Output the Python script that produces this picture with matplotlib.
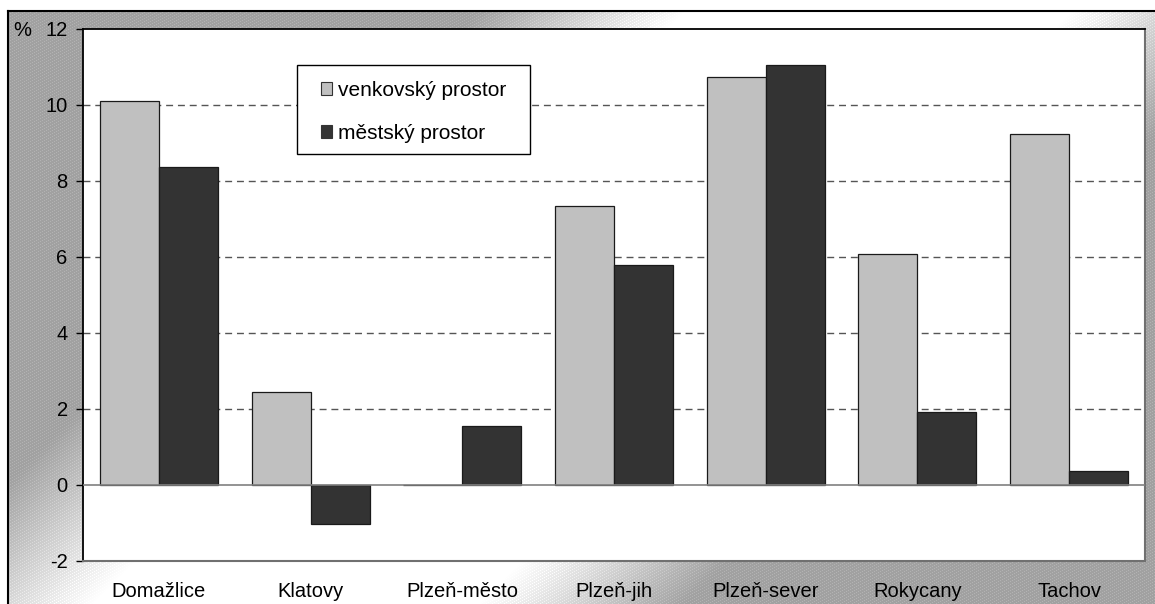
import numpy as np
import matplotlib
matplotlib.use("Agg")
import matplotlib.pyplot as plt
from matplotlib.patches import Patch, Rectangle

plt.rcParams['font.family'] = ['Liberation Sans', 'DejaVu Sans']
plt.rcParams['axes.unicode_minus'] = False

# data (% change)
districts = ["Domažlice", "Klatovy", "Plzeň-město", "Plzeň-jih",
             "Plzeň-sever", "Rokycany", "Tachov"]
rural = [10.1, 2.45, 0.0, 7.33, 10.73, 6.08, 9.24]
urban = [8.36, -1.03, 1.55, 5.8, 11.04, 1.92, 0.37]
series_names = ["venkovský prostor", "městský prostor"]
yticks = [-2, 0, 2, 4, 6, 8, 10, 12]

W, H = 1155, 604
fig = plt.figure(figsize=(W / 100, H / 100), dpi=100)

# gray diagonal gradient with faint white hatching behind the plot area
bx0, by0 = 8, 11
bw, bh = W - bx0, H - by0
yy, xx = np.mgrid[0:bh, 0:bw]
t = (xx + yy) / (bw + bh)
ramp = np.clip((np.abs(t - 0.5) - 0.11) / 0.12, 0, 1)
shade = 1.0 - 0.37 * ramp
hatch = ((xx + 2 * yy) % 6) < 1
img = np.where(hatch, np.minimum(shade + 0.07, 1.0), shade)
bg = fig.add_axes([bx0 / W, 0, bw / W, bh / H], zorder=0)
bg.imshow(img, cmap='gray', vmin=0, vmax=1, aspect='auto', interpolation='nearest')
bg.set_axis_off()
fig.add_artist(plt.Line2D([bx0 / W, bx0 / W], [0, 1 - by0 / H], color='black', lw=1.5))
fig.add_artist(plt.Line2D([bx0 / W, 1], [1 - by0 / H, 1 - by0 / H], color='black', lw=1.5))

# plot area
left, right, top, bottom = 83, 1145, 29, 561
ax = fig.add_axes([left / W, 1 - bottom / H, (right - left) / W, (bottom - top) / H], zorder=2)
ax.set_facecolor('white')

x = np.arange(len(districts))
bw_ = 0.389
ax.bar(x - bw_ / 2, rural, width=bw_, color='#c0c0c0', edgecolor='#1a1a1a', lw=0.9, zorder=3)
ax.bar(x + bw_ / 2, urban, width=bw_, color='#333333', edgecolor='#1a1a1a', lw=0.9, zorder=3)

for v in yticks[2:-1]:
    ax.axhline(v, color='#555555', lw=1, ls=(0, (5, 3.5)), zorder=1)
ax.axhline(0, color='#808080', lw=1.2, zorder=4)

ax.set_xlim(-0.5, len(districts) - 0.5)
ax.set_ylim(-2, 12)
ax.set_yticks(yticks)
ax.set_xticks(x)
ax.set_xticklabels(districts)
ax.tick_params(axis='y', direction='out', length=5, width=1, labelsize=14.5, pad=6)
ax.tick_params(axis='x', length=0, labelsize=14.5, pad=15)

for s in ['left', 'top']:
    ax.spines[s].set_color('black')
    ax.spines[s].set_linewidth(1.3)
for s in ['right', 'bottom']:
    ax.spines[s].set_color('#707070')
    ax.spines[s].set_linewidth(1.5)

fig.text(13 / W, 1 - 31 / H, "%", fontsize=14.5, va='center', ha='left')


def to_ax(px, py):
    return (px - left) / (right - left), (bottom - py) / (bottom - top)


# legend box drawn explicitly, entries placed inside
lx0, ly1 = to_ax(297, 65)
lx1, ly0 = to_ax(530, 154)
ax.add_patch(Rectangle((lx0, ly0), lx1 - lx0, ly1 - ly0, transform=ax.transAxes,
                       facecolor='white', edgecolor='black', lw=1, zorder=5))
handles = [Patch(facecolor='#c0c0c0', edgecolor='#333333', lw=0.8),
           Patch(facecolor='#333333', edgecolor='#333333', lw=0.8)]
leg = ax.legend(handles, series_names, loc='upper left',
                bbox_to_anchor=to_ax(321, 81),
                fontsize=15, frameon=False,
                handlelength=0.55, handleheight=0.55, handletextpad=0.25,
                labelspacing=1.15, borderpad=0, borderaxespad=0)
leg.set_zorder(6)

fig.savefig("out.png", dpi=100)
